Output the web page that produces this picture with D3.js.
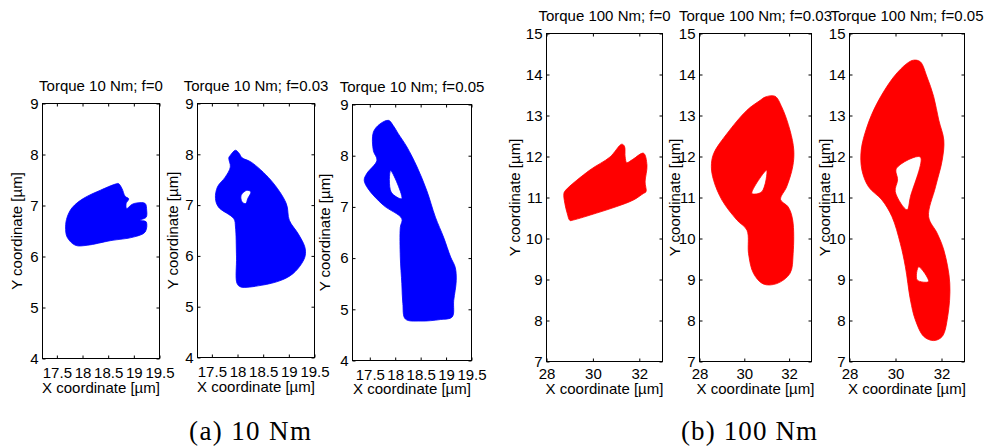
<!DOCTYPE html>
<html>
<head>
<meta charset="utf-8">
<script src="https://cdn.jsdelivr.net/npm/d3@7"></script>
<style>
  body { margin: 0; background: #fff; }
  svg { display: block; }
</style>
</head>
<body>
<script>
// tick values and labels
const xTicks10 = [17.5, 18, 18.5, 19, 19.5];
const yTicks10 = [4, 5, 6, 7, 8, 9];
const xTicks100 = [28, 30, 32];
const yTicks100 = [7, 8, 9, 10, 11, 12, 13, 14, 15];
const panelTitles = [
  "Torque 10 Nm; f=0", "Torque 10 Nm; f=0.03", "Torque 10 Nm; f=0.05",
  "Torque 100 Nm; f=0", "Torque 100 Nm; f=0.03", "Torque 100 Nm; f=0.05"
];
const captions = ["(a) 10 Nm", "(b) 100 Nm"];

// outer envelope of each orbit bundle [x um, y um]
const orbit10_f0 = [[17.67,6.58],[17.70,6.38],[17.86,6.22],[18.09,6.22],[18.54,6.31],[18.99,6.38],[19.22,6.48],[19.24,6.68],[19.12,6.71],[19.24,6.77],[19.25,6.91],[19.22,7.04],[19.06,7.05],[18.96,7.02],[18.86,6.94],[18.85,7.04],[18.90,7.13],[18.83,7.18],[18.77,7.33],[18.70,7.43],[18.64,7.42],[18.35,7.30],[18.02,7.14],[17.80,6.96],[17.70,6.77]];
const orbit10_f003 = [[17.86,7.98],[17.96,8.08],[18.03,8.02],[18.09,7.93],[18.26,7.85],[18.65,7.49],[18.95,7.03],[19.01,6.70],[19.18,6.44],[19.31,6.18],[19.32,6.01],[19.25,5.85],[19.08,5.65],[18.85,5.52],[18.46,5.42],[18.06,5.39],[17.99,5.46],[17.98,5.98],[17.96,6.57],[17.93,6.73],[17.63,6.96],[17.57,7.13],[17.61,7.36],[17.76,7.55],[17.86,7.75],[17.83,7.93]];
const hole10_f003 = [[18.09,7.06],[18.07,7.19],[18.18,7.29],[18.26,7.26],[18.20,7.13],[18.16,7.03]];
const orbit10_f005 = [[17.87,8.69],[17.96,8.59],[18.06,8.43],[18.23,8.17],[18.43,7.78],[18.62,7.32],[18.79,6.80],[18.95,6.41],[19.09,6.02],[19.18,5.82],[19.20,5.56],[19.15,5.17],[19.12,4.85],[18.89,4.80],[18.49,4.77],[18.20,4.81],[18.15,5.11],[18.13,5.50],[18.10,6.02],[18.10,6.60],[18.13,6.77],[17.77,7.03],[17.47,7.35],[17.39,7.52],[17.44,7.65],[17.64,7.91],[17.57,8.10],[17.57,8.46],[17.70,8.62]];
const hole10_f005 = [[17.91,7.71],[18.13,7.16],[17.92,7.29]];
const orbit100_f0 = [[28.75,11.10],[28.83,11.18],[29.87,11.67],[30.74,11.99],[31.24,12.30],[31.36,12.25],[31.39,11.99],[31.46,11.85],[31.72,11.93],[32.18,12.08],[32.33,11.79],[32.25,11.38],[32.29,11.14],[32.18,11.10],[31.75,10.94],[31.03,10.78],[30.16,10.62],[29.15,10.45],[29.01,10.44],[28.89,10.62],[28.79,10.86]];
const orbit100_f003 = [[30.93,13.45],[31.37,13.47],[31.67,13.21],[32.04,12.64],[32.21,12.15],[32.16,11.75],[31.89,11.26],[31.62,10.95],[31.96,10.77],[32.16,10.45],[32.18,9.63],[32.04,9.15],[31.45,8.90],[30.85,8.89],[30.41,9.15],[30.19,9.63],[30.12,10.20],[29.67,10.45],[29.01,10.93],[28.63,11.42],[28.53,11.75],[28.63,12.07],[29.23,12.56],[30.12,13.13],[30.71,13.37]];
const hole100_f003 = [[30.34,11.10],[31.00,11.67],[30.78,11.14]];
const orbit100_f005 = [[30.79,14.35],[31.08,14.31],[31.37,13.94],[31.66,13.46],[31.88,12.89],[32.10,12.40],[32.03,11.91],[31.74,11.26],[31.44,10.53],[31.81,10.13],[32.10,9.72],[32.36,8.91],[32.27,8.10],[32.03,7.61],[31.66,7.51],[31.23,7.61],[30.86,8.02],[30.65,8.50],[30.43,9.31],[30.21,9.88],[29.85,10.53],[29.41,10.94],[28.83,11.26],[28.54,11.67],[28.51,12.16],[28.76,12.72],[29.19,13.29],[29.92,13.94],[30.50,14.27]];
const hole100_f005a = [[30.04,11.71],[31.08,11.99],[30.65,11.02],[30.50,10.70],[29.99,11.14],[30.09,11.43]];
const hole100_f005b = [[31.01,9.31],[31.44,8.95],[30.94,8.99]];

const blue = "#0000ff", red = "#ff0000";
const font = "'Liberation Sans', Arial, Helvetica, sans-serif";
const fs = 15;

// layout: box = [left, top, right, bottom] in px
const panels = [
  { title: panelTitles[0], rings: [orbit10_f0], xDom: [17.22, 19.5], yDom: [4, 9], xTicks: xTicks10, yTicks: yTicks10, color: blue, box: [42.5, 103.5, 159.5, 358.5], yLabelX: 17, pad: 9, xLabelDy: 34 },
  { title: panelTitles[1], rings: [orbit10_f003, hole10_f003], xDom: [17.22, 19.5], yDom: [4, 9], xTicks: xTicks10, yTicks: yTicks10, color: blue, box: [197.5, 103.5, 314.5, 357.5], yLabelX: 173, pad: 9, xLabelDy: 34 },
  { title: panelTitles[2], rings: [orbit10_f005, hole10_f005], xDom: [17.16, 19.5], yDom: [4, 9], xTicks: xTicks10, yTicks: yTicks10, color: blue, box: [352.5, 104.5, 471.5, 360.5], yLabelX: 325, pad: 9, xLabelDy: 33 },
  { title: panelTitles[3], rings: [orbit100_f0], xDom: [28, 33], yDom: [7, 15], xTicks: xTicks100, yTicks: yTicks100, color: red, box: [546.5, 33.5, 662.5, 361.5], yLabelX: 515, pad: 7, xLabelDy: 32 },
  { title: panelTitles[4], rings: [orbit100_f003, hole100_f003], xDom: [28, 33], yDom: [7, 15], xTicks: xTicks100, yTicks: yTicks100, color: red, box: [699.5, 33.5, 811.5, 361.5], yLabelX: 675, pad: 7, xLabelDy: 32 },
  { title: panelTitles[5], rings: [orbit100_f005, hole100_f005a, hole100_f005b], xDom: [28, 33], yDom: [7, 15], xTicks: xTicks100, yTicks: yTicks100, color: red, box: [849.5, 33.5, 964.5, 361.5], yLabelX: 825, pad: 7, xLabelDy: 32 }
];

const svg = d3.select("body").append("svg")
  .attr("width", 986)
  .attr("height", 448)
  .style("background", "#fff");

function styleAxis(a) {
  a.select(".domain").remove();
  a.attr("font-size", fs).attr("font-family", font);
  a.selectAll("text").attr("fill", "#000");
}

panels.forEach((p) => {
  const [l, t, r, b] = p.box;
  const x = d3.scaleLinear().domain(p.xDom).range([l, r]);
  const y = d3.scaleLinear().domain(p.yDom).range([b, t]);
  const g = svg.append("g");

  const line = d3.line()
    .x((d) => x(d[0]))
    .y((d) => y(d[1]))
    .curve(d3.curveCatmullRomClosed.alpha(0.5));

  g.append("path")
    .attr("d", p.rings.map((ring) => line(ring)).join(""))
    .attr("fill", p.color)
    .attr("fill-rule", "evenodd")
    .attr("stroke", p.color)
    .attr("stroke-width", 0.8);

  g.append("g")
    .attr("transform", `translate(0,${b})`)
    .call(d3.axisBottom(x).tickValues(p.xTicks).tickSizeInner(-3).tickSizeOuter(0).tickPadding(p.pad).tickFormat((d) => String(d)))
    .call(styleAxis);
  g.append("g")
    .attr("transform", `translate(0,${t})`)
    .call(d3.axisTop(x).tickValues(p.xTicks).tickSizeInner(-3).tickSizeOuter(0).tickFormat(""))
    .call(styleAxis);
  g.append("g")
    .attr("transform", `translate(${l},0)`)
    .call(d3.axisLeft(y).tickValues(p.yTicks).tickSizeInner(-3).tickSizeOuter(0).tickPadding(4).tickFormat((d) => String(d)))
    .call(styleAxis);
  g.append("g")
    .attr("transform", `translate(${r},0)`)
    .call(d3.axisRight(y).tickValues(p.yTicks).tickSizeInner(-3).tickSizeOuter(0).tickFormat(""))
    .call(styleAxis);

  g.append("rect")
    .attr("x", l).attr("y", t)
    .attr("width", r - l).attr("height", b - t)
    .attr("fill", "none")
    .attr("stroke", "#000")
    .attr("stroke-width", 1);

  g.append("text")
    .attr("x", (l + r) / 2)
    .attr("y", t - 12.5)
    .attr("text-anchor", "middle")
    .attr("font-family", font)
    .attr("font-size", fs)
    .text(p.title);

  g.append("text")
    .attr("x", (l + r) / 2)
    .attr("y", b + p.xLabelDy)
    .attr("text-anchor", "middle")
    .attr("font-family", font)
    .attr("font-size", fs)
    .text("X coordinate [\u00b5m]");

  g.append("text")
    .attr("transform", `translate(${p.yLabelX},${(t + b) / 2}) rotate(-90)`)
    .attr("dy", "0.35em")
    .attr("text-anchor", "middle")
    .attr("font-family", font)
    .attr("font-size", fs)
    .text("Y coordinate [\u00b5m]");
});

// sub-figure captions
svg.selectAll("text.caption")
  .data(captions)
  .join("text")
  .attr("class", "caption")
  .attr("x", (d, i) => [250, 749][i])
  .attr("y", 440)
  .attr("text-anchor", "middle")
  .attr("font-family", "'Liberation Serif', 'Times New Roman', serif")
  .attr("font-size", 27)
  .attr("textLength", (d, i) => [122, 136][i])
  .attr("lengthAdjust", "spacing")
  .text((d) => d);
</script>
</body>
</html>
